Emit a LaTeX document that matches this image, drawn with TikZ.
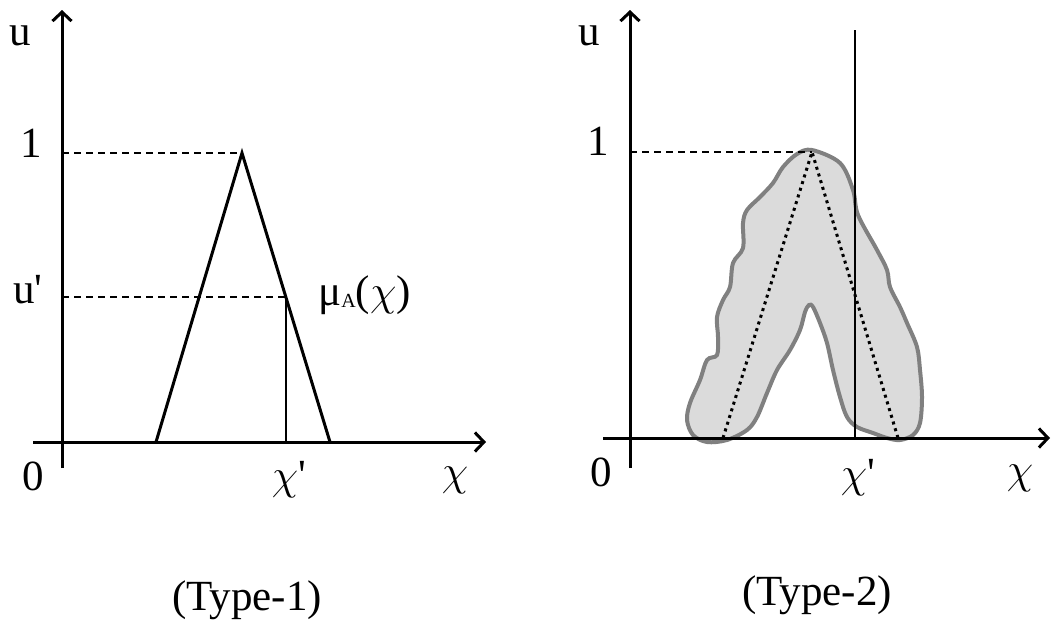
\RequirePackage{fix-cm}
\documentclass[tikz,border=0pt]{standalone}
\usepackage{fontspec}
\setmainfont{Liberation Serif}
\usetikzlibrary{arrows.meta}
\newcommand{\chisym}{\ensuremath{\chi}}
\newcommand{\primesym}{\textquotesingle}
\tikzset{
  axis/.style={line width=3pt,-{Straight Barb[length=9pt,width=19pt,line width=3pt]}},
  tri/.style={line width=3pt,line join=miter},
  thin line/.style={line width=1.6pt},
  guide/.style={line width=1.6pt,dash pattern=on 7pt off 5pt},
  dotline/.style={line width=3pt,dash pattern=on 3pt off 4pt},
  lbl/.style={inner sep=0pt,font=\fontsize{43}{50}\selectfont},
  blob/.style={draw=black!50,line width=4pt,fill=black!14}
}
\begin{document}
\begin{tikzpicture}[x=1pt,y=-1pt]
\useasboundingbox (0,0) rectangle (1051,635);
% ---------- Type-1 ----------
\coordinate (o1) at (62,442);
\coordinate (yb1) at (62,468);
\coordinate (yt1) at (62,10);
\coordinate (xl1) at (33,442);
\coordinate (xr1) at (486,442);
\coordinate (ta) at (156,442);
\coordinate (tb) at (242,153);
\coordinate (tc) at (330,442);
\coordinate (one1) at (62,153);
\coordinate (up) at (62,297);
\coordinate (upx) at (286,297);
\coordinate (xp1) at (286,442);
\draw[guide] (one1) -- (tb);
\draw[guide] (up) -- (upx);
\draw[thin line] (upx) -- (xp1);
\draw[tri] (ta) -- (tb) -- (tc);
\draw[axis] (yb1) -- (yt1);
\draw[axis] (xl1) -- (xr1);
\node[lbl] (u1) at (20,36) {u};
\node[lbl] (l1a) at (31,143) {1};
\node[lbl] (lup) at (28,290) {u\primesym};
\node[lbl] (z1) at (33,476) {0};
\node[lbl] (xpl1) at (289,480) {\chisym\primesym};
\node[lbl] (x1) at (455,480) {\chisym};
\node[lbl,anchor=west] (mu) at (318,295) {μ\raisebox{-2pt}{\fontsize{20}{22}\selectfont A}(\chisym)};
\node[lbl] (t1) at (247,600) {(Type-1)};
% ---------- Type-2 ----------
\coordinate (yb2) at (630,468);
\coordinate (yt2) at (630,10);
\coordinate (xl2) at (603,438);
\coordinate (xr2) at (1050,438);
\coordinate (one2) at (630,152);
\coordinate (apex) at (812,152);
\coordinate (dl) at (723,438);
\coordinate (dr) at (898,438);
\coordinate (vt) at (855,30);
\coordinate (vb) at (855,438);
\draw[blob] plot[smooth cycle,tension=0.55] coordinates {
 (812,150) (840,163) (853,190) (858,215) (877,250) (887,270) (890,287)
 (900,307) (907,323) (917,347) (920,370) (922,397) (920,423) (913,435)
 (900,440) (887,438) (873,433) (857,427) (847,417) (840,397) (833,370)
 (827,343) (820,323) (813,307) (809,305) (805,312) (800,330) (790,350)
 (777,370) (767,393) (757,417) (747,430) (727,440) (707,442) (693,435)
 (687,420) (690,403) (700,380) (707,360) (717,355) (718,337) (717,317)
 (723,300) (730,287) (733,263) (743,248) (743,223) (747,210) (760,197)
 (773,183) (783,167) (797,154)};
\draw[guide] (one2) -- (apex);
\draw[dotline] (dl) -- (apex) -- (dr);
\draw[thin line] (vt) -- (vb);
\draw[axis] (yb2) -- (yt2);
\draw[axis] (xl2) -- (xr2);
\node[lbl] (u2) at (589,36) {u};
\node[lbl] (l1b) at (598,141) {1};
\node[lbl] (z2) at (601,472) {0};
\node[lbl] (xpl2) at (858,478) {\chisym\primesym};
\node[lbl] (x2) at (1020,478) {\chisym};
\node[lbl] (t2) at (817,595) {(Type-2)};
\end{tikzpicture}
\end{document}
